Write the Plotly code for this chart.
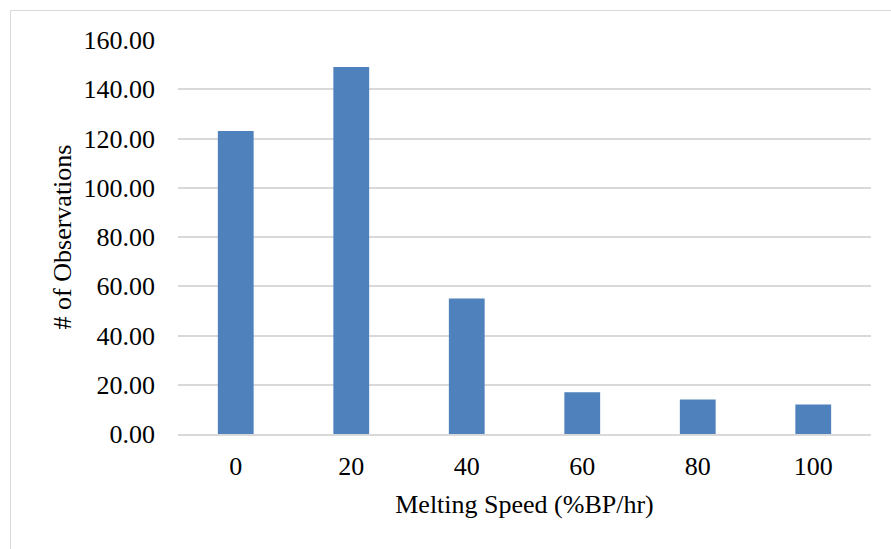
import plotly.graph_objects as go

categories = ["0", "20", "40", "60", "80", "100"]
observations = [123, 149, 55, 17, 14, 12]
y_ticks = [0, 20, 40, 60, 80, 100, 120, 140, 160]

W, H = 891, 549
L, R, T, B = 178, 20, 40, 115
pw = W - L - R
ph = H - T - B

fig = go.Figure(go.Bar(
    x=categories, y=observations,
    marker=dict(color="#4f81bd", line=dict(width=0)),
    width=0.31,
))

font_family = "Liberation Serif, Times New Roman, serif"
fig.update_layout(
    width=W, height=H,
    margin=dict(l=L, r=R, t=T, b=B, autoexpand=False),
    paper_bgcolor="white", plot_bgcolor="white",
    font=dict(family=font_family, size=26, color="black"),
    showlegend=False,
    xaxis=dict(
        type="category",
        showgrid=False,
        showline=True, linecolor="#d9d9d9", linewidth=1.5,
        ticks="", ticklabelstandoff=8, automargin=False,
        title=dict(text="Melting Speed (%BP/hr)", font=dict(size=26), standoff=15),
    ),
    yaxis=dict(
        range=[0, 160],
        tickvals=y_ticks,
        tickformat=".2f",
        showgrid=True, gridcolor="#d9d9d9", gridwidth=1.5,
        zeroline=False, showline=False,
        ticks="", ticklabelstandoff=22, automargin=False,
        title=dict(text="# of Observations", font=dict(size=26), standoff=4),
    ),
    shapes=[
        dict(type="rect", xref="paper", yref="paper",
             x0=(10.5 - L) / pw, x1=(W + 5 - L) / pw,
             y0=(H - (H + 5) - B) / ph, y1=(H - 10.5 - B) / ph,
             line=dict(color="#d9d9d9", width=1), fillcolor="rgba(0,0,0,0)",
             layer="below"),
    ],
)

fig.write_html("out.html", config={"displayModeBar": False},
               post_script="document.body.style.margin='0';")
